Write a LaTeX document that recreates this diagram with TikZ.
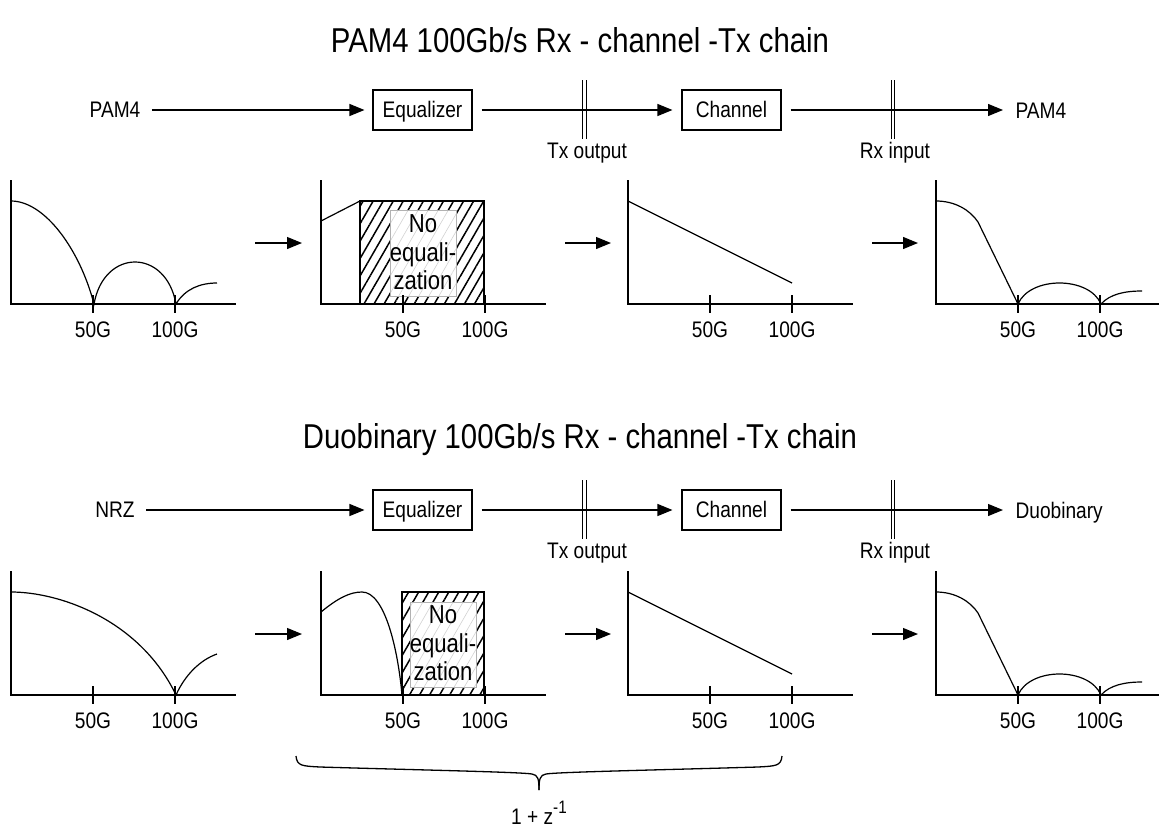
\documentclass[tikz,border=0pt]{standalone}
\usepackage{fontspec}
\setmainfont{Liberation Sans}[FakeStretch=0.85]
\usetikzlibrary{arrows.meta,patterns.meta}
\newcommand\freqaxes[2]{%
  \begin{scope}[shift={(#1,0)}]
    \draw[axisline] (0,180) -- (0,304) -- (225,304);
    \draw[axisline] (82,295) -- (82,313);
    \draw[axisline] (164,295) -- (164,313);
    \node[lbl] (#2a) at (82,330) {50G};
    \node[lbl] (#2b) at (164,330) {100G};
  \end{scope}}
\newcommand\hatchbox[6]{%
  \fill[hatch] (#1,#2) rectangle (#3,304);
  \draw[boxline] (#1,#2) rectangle (#3,304);
  \fill[white] (#4,#5) rectangle (#6);
  \fill[lighthatch] (#4,#5) rectangle (#6);
  \draw[innerline] (#4,#5) rectangle (#6);}
\newcommand\boxwords[2]{%
  \node[boxtext] (#2n) at (#1,232) {No};
  \node[boxtext] (#2e) at (#1,261) {equali-};
  \node[boxtext] (#2z) at (#1,289) {zation};}
\begin{document}
\begin{tikzpicture}[x=1pt,y=-1pt,
  line width=1.2pt,
  lbl/.style={font=\fontsize{22.5}{26}\selectfont, inner sep=0pt},
  ttl/.style={font=\fontsize{34.5}{40}\selectfont, inner sep=0pt},
  blk/.style={draw, line width=1.1pt, minimum width=99pt, minimum height=40pt, inner sep=0pt, text height=16pt, text depth=2pt, font=\fontsize{22.5}{26}\selectfont},
  flow/.style={-{Triangle[length=15pt,width=12pt]}, line width=1.2pt},
  marker/.style={line width=0.9pt},
  axisline/.style={line width=1.3pt},
  curve/.style={line width=1.2pt},
  boxline/.style={line width=1.3pt},
  innerline/.style={line width=1pt, draw=gray!60},
  hatch/.style={pattern={Lines[angle=60,distance=8.7pt,line width=1.5pt]}, pattern color=black},
  lighthatch/.style={pattern={Lines[angle=60,distance=8.7pt,line width=0.6pt]}, pattern color=gray!35},
  boxtext/.style={font=\fontsize{26}{29}\selectfont, anchor=base, inner sep=0pt},
  brace/.style={line width=1.3pt}]
\useasboundingbox (0,0) rectangle (1159,830);

% ================= Row 1 =================
\node[ttl] (t1) at (580,40) {PAM4 100Gb/s Rx - channel -Tx chain};

\node[lbl] (in1) at (115,110) {PAM4};
\node[blk] (eq1) at (422.5,110) {Equalizer};
\node[blk] (ch1) at (731.5,110) {Channel};
\node[lbl, anchor=base west] (out1) at (1015,118) {PAM4};
\draw[flow, shorten <=11pt, shorten >=8pt] (in1) -- (eq1);
\draw[flow, shorten <=9pt, shorten >=9pt] (eq1) -- (ch1);
\draw[flow, shorten <=9pt, shorten >=12pt] (ch1) -- (out1.west |- ch1);
\draw[marker] (582.5,80) -- (582.5,139);
\draw[marker] (586,80) -- (586,139);
\node[lbl] (tx1) at (587,153) {Tx output};
\draw[marker] (891,80) -- (891,139);
\draw[marker] (894.5,80) -- (894.5,139);
\node[lbl] (rx1) at (895,153) {Rx input};

% plots row 1
\hatchbox{360}{201}{484}{390}{210}{456,296}
\boxwords{423}{ne1}
\freqaxes{11}{pa}
\freqaxes{321}{pb}
\freqaxes{628}{pc}
\freqaxes{936}{pd}

\draw[curve] (11,201) .. controls (45,201) and (80,250) .. (94,304)
  .. controls (104,248) and (166,248) .. (176,304)
  .. controls (185,289) and (200,283) .. (217,283);
\draw[curve] (321,221) -- (360,201);
\draw[curve] (628,201) -- (792,283);
\draw[curve] (936,201) .. controls (955,201) and (970,210) .. (978,222) -- (1018,304)
  .. controls (1030,276) and (1089,276) .. (1101,304)
  .. controls (1110,294) and (1125,291) .. (1142,291);

\coordinate (a1s) at (255,243); \coordinate (a1e) at (302,243);
\coordinate (a2s) at (565,243); \coordinate (a2e) at (611,243);
\coordinate (a3s) at (872,243); \coordinate (a3e) at (918,243);
\draw[flow] (a1s) -- (a1e);
\draw[flow] (a2s) -- (a2e);
\draw[flow] (a3s) -- (a3e);

% ================= Row 2 =================
\node[ttl] (t2) at (580,440) {Duobinary 100Gb/s Rx - channel -Tx chain};

\node[lbl] (in2) at (115,510) {NRZ};
\node[blk] (eq2) at (422.5,510) {Equalizer};
\node[blk] (ch2) at (731.5,510) {Channel};
\node[lbl, anchor=base west] (out2) at (1015,518) {Duobinary};
\draw[flow, shorten <=11pt, shorten >=8pt] (in2) -- (eq2);
\draw[flow, shorten <=9pt, shorten >=9pt] (eq2) -- (ch2);
\draw[flow, shorten <=9pt, shorten >=12pt] (ch2) -- (out2.west |- ch2);
\draw[marker] (582.5,480) -- (582.5,539);
\draw[marker] (586,480) -- (586,539);
\node[lbl] (tx2) at (587,553) {Tx output};
\draw[marker] (891,480) -- (891,539);
\draw[marker] (894.5,480) -- (894.5,539);
\node[lbl] (rx2) at (895,553) {Rx input};

\begin{scope}[shift={(0,391)}]
\hatchbox{402}{201}{484}{410}{211}{476,296}
\boxwords{443}{ne2}
\freqaxes{11}{qa}
\freqaxes{321}{qb}
\freqaxes{628}{qc}
\freqaxes{936}{qd}

\draw[curve] (11,201) .. controls (60,201) and (140,229) .. (176,304)
  .. controls (185,284) and (200,269) .. (217,263);
\draw[curve] (321,221) .. controls (338,207) and (350,201) .. (362,201)
  .. controls (385,201) and (398,259) .. (402,304);
\draw[curve] (628,201) -- (792,283);
\draw[curve] (936,201) .. controls (955,201) and (970,210) .. (978,222) -- (1018,304)
  .. controls (1030,276) and (1089,276) .. (1101,304)
  .. controls (1110,294) and (1125,291) .. (1142,291);

\coordinate (b1s) at (255,243); \coordinate (b1e) at (302,243);
\coordinate (b2s) at (565,243); \coordinate (b2e) at (611,243);
\coordinate (b3s) at (872,243); \coordinate (b3e) at (918,243);
\draw[flow] (b1s) -- (b1e);
\draw[flow] (b2s) -- (b2e);
\draw[flow] (b3s) -- (b3e);
\end{scope}

% brace
\draw[brace] (296,756) .. controls (297,766) and (302,766) .. (320,767)
  .. controls (420,770) and (520,772) .. (532,774)
  .. controls (538,775) and (539,779) .. (539,790);
\draw[brace] (782,756) .. controls (781,766) and (776,766) .. (758,767)
  .. controls (658,770) and (558,772) .. (546,774)
  .. controls (540,775) and (539,779) .. (539,790);
\node[lbl] (zl) at (539,813) {1 + z\raisebox{11pt}{\fontsize{18}{18}\selectfont -1}};
\end{tikzpicture}
\end{document}
